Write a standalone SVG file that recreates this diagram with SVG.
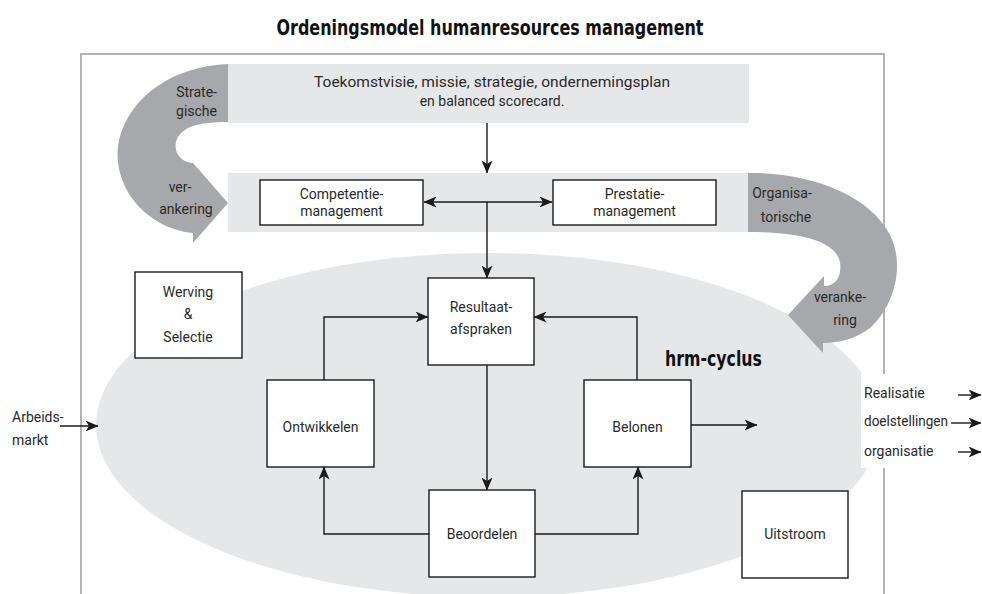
<svg xmlns="http://www.w3.org/2000/svg" width="982" height="594" viewBox="0 0 982 594">
  <defs>
    <style>
      .t { font-family: Roboto, "Liberation Sans", sans-serif; font-size: 14px; fill: #2a2a2a; }
      .m { text-anchor: middle; }
      .e { text-anchor: end; }
      .hd { font-family: "DejaVu Sans Condensed", "DejaVu Sans", sans-serif; font-stretch: condensed; font-weight: bold; fill: #111; }
      .box { fill: #fff; stroke: #1a1a1a; stroke-width: 1.4; }
      .band { fill: #e6e7e9; }
      .dark { fill: #a7a8ab; }
      .ln { fill: none; stroke: #1a1a1a; stroke-width: 1.4; }
    </style>
    <marker id="ah" viewBox="0 0 13 11" refX="12.5" refY="5.5" markerWidth="13" markerHeight="11" markerUnits="userSpaceOnUse" orient="auto-start-reverse">
      <path d="M0,0 L13,5.5 L0,11 L3.5,5.5 Z" fill="#1a1a1a"/>
    </marker>
  </defs>

  <rect width="982" height="594" fill="#fff"/>

  <!-- title -->
  <text class="hd" x="490" y="35" font-size="21" text-anchor="middle" textLength="427" lengthAdjust="spacingAndGlyphs">Ordeningsmodel humanresources management</text>

  <!-- outer frame, open at the bottom -->
  <path d="M81,594 L81,54 L884,54 L884,594" fill="none" stroke="#9a9a9a" stroke-width="1.5"/>

  <!-- hrm cycle area -->
  <ellipse id="hrm-area" class="band" cx="488" cy="425" rx="392" ry="172"/>

  <!-- strategic band -->
  <g id="strategie">
    <rect class="band" x="228" y="64" width="521" height="59"/>
    <text class="t m" x="492" y="87" textLength="356" lengthAdjust="spacingAndGlyphs">Toekomstvisie, missie, strategie, ondernemingsplan</text>
    <text class="t m" x="492" y="106">en balanced scorecard.</text>
  </g>

  <!-- management band -->
  <rect id="management-band" class="band" x="228" y="173" width="521" height="59"/>

  <!-- strategic anchoring arrow -->
  <g id="strategische-verankering">
    <path class="dark" d="M228,64 C175,66 130,95 119,140 C110,185 145,228 193,233 L193,243 L228,203 L193,163 C180,162 174,152 176,142 C180,128 195,122 228,122 Z"/>
    <text class="t e" x="217" y="97">Strate-</text>
    <text class="t e" x="217" y="116">gische</text>
    <text class="t m" x="180" y="192">ver-</text>
    <text class="t m" x="186" y="214">ankering</text>
  </g>

  <!-- organisational anchoring arrow -->
  <g id="organisatorische-verankering">
    <path class="dark" d="M748,173 C810,172 870,195 890,235 C905,265 895,305 870,328 C857,338 840,343 823,343 L823,353 L788,315 L824,276 L824,286 C836,286 842,276 840,262 C836,244 810,232 748,232 Z"/>
    <text class="t m" x="782" y="198">Organisa-</text>
    <text class="t m" x="786" y="222">torische</text>
    <text class="t m" x="840" y="302">veranke-</text>
    <text class="t m" x="845" y="325">ring</text>
  </g>

  <!-- output label area -->
  <rect x="861" y="374" width="121" height="94" fill="#fff"/>

  <!-- nodes -->
  <g id="competentie">
    <rect class="box" x="260" y="180" width="163" height="45"/>
    <text class="t m" x="341.5" y="199">Competentie-</text>
    <text class="t m" x="341.5" y="216">management</text>
  </g>
  <g id="prestatie">
    <rect class="box" x="553" y="180" width="163" height="45"/>
    <text class="t m" x="634.5" y="199">Prestatie-</text>
    <text class="t m" x="634.5" y="216">management</text>
  </g>
  <g id="werving">
    <rect class="box" x="135" y="272" width="107" height="86"/>
    <text class="t m" x="188" y="297">Werving</text>
    <text class="t m" x="188" y="319">&amp;</text>
    <text class="t m" x="188" y="342">Selectie</text>
  </g>
  <g id="resultaat">
    <rect class="box" x="428" y="278" width="106" height="87"/>
    <text class="t m" x="481" y="312">Resultaat-</text>
    <text class="t m" x="481" y="334">afspraken</text>
  </g>
  <g id="ontwikkelen">
    <rect class="box" x="267" y="380" width="107" height="87"/>
    <text class="t m" x="320.5" y="432">Ontwikkelen</text>
  </g>
  <g id="belonen">
    <rect class="box" x="584" y="380" width="107" height="87"/>
    <text class="t m" x="637.5" y="432">Belonen</text>
  </g>
  <g id="beoordelen">
    <rect class="box" x="429" y="490" width="106" height="87"/>
    <text class="t m" x="482" y="539">Beoordelen</text>
  </g>
  <g id="uitstroom">
    <rect class="box" x="742" y="491" width="106" height="87"/>
    <text class="t m" x="795" y="539">Uitstroom</text>
  </g>

  <text id="hrm-cyclus" class="hd" x="665" y="366" font-size="22" textLength="97" lengthAdjust="spacingAndGlyphs">hrm-cyclus</text>

  <g id="arbeidsmarkt">
    <text class="t" x="12" y="422">Arbeids-</text>
    <text class="t" x="12" y="445">markt</text>
  </g>

  <g id="realisatie">
    <text class="t" x="864" y="398">Realisatie</text>
    <text class="t" x="864" y="426" textLength="84" lengthAdjust="spacingAndGlyphs">doelstellingen</text>
    <text class="t" x="864" y="456">organisatie</text>
  </g>

  <!-- connectors -->
  <g id="connectors">
    <line class="ln" x1="487" y1="123" x2="487" y2="173" marker-end="url(#ah)"/>
    <line class="ln" x1="424" y1="202" x2="552" y2="202" marker-start="url(#ah)" marker-end="url(#ah)"/>
    <line class="ln" x1="487" y1="202" x2="487" y2="278" marker-end="url(#ah)"/>
    <polyline class="ln" points="324,380 324,317 428,317" marker-end="url(#ah)"/>
    <polyline class="ln" points="637,380 637,317 534,317" marker-end="url(#ah)"/>
    <line class="ln" x1="487" y1="365" x2="487" y2="490" marker-end="url(#ah)"/>
    <polyline class="ln" points="429,534 324,534 324,467" marker-end="url(#ah)"/>
    <polyline class="ln" points="535,534 638,534 638,467" marker-end="url(#ah)"/>
    <line class="ln" x1="691" y1="425" x2="757" y2="425" marker-end="url(#ah)"/>
    <line class="ln" x1="60" y1="426" x2="98" y2="426" marker-end="url(#ah)"/>
    <line class="ln" x1="958" y1="395" x2="981" y2="395" marker-end="url(#ah)"/>
    <line class="ln" x1="951" y1="423" x2="981" y2="423" marker-end="url(#ah)"/>
    <line class="ln" x1="958" y1="452" x2="981" y2="452" marker-end="url(#ah)"/>
  </g>
</svg>
